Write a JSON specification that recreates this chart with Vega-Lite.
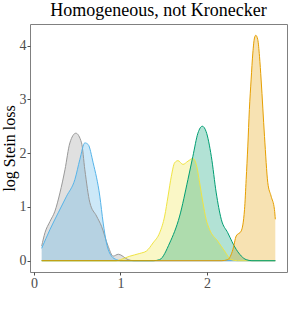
{
  "$schema": "https://vega.github.io/schema/vega-lite/v6.json",
  "width": 257,
  "height": 248,
  "autosize": "none",
  "padding": {"left": 30, "top": 24, "right": 4, "bottom": 37},
  "background": "white",
  "title": {"text": "Homogeneous, not Kronecker", "font": "Liberation Serif", "fontSize": 18, "fontWeight": "normal", "color": "black", "offset": 4, "anchor": "middle"},
  "config": {
    "view": {"stroke": "#808080", "strokeWidth": 1},
    "axis": {"grid": false, "domain": false, "tickColor": "#4d4d4d", "tickSize": 3, "labelFont": "Liberation Serif", "labelFontSize": 14, "labelColor": "#4d4d4d", "titleFont": "Liberation Serif", "titleFontSize": 16, "titleFontWeight": "normal", "titleColor": "black", "labelPadding": 1}
  },
  "data": {"values": [
    {"s": "a", "x": 0.089, "y": 0.27}, {"s": "a", "x": 0.127, "y": 0.52}, {"s": "a", "x": 0.185, "y": 0.73}, {"s": "a", "x": 0.242, "y": 0.92}, {"s": "a", "x": 0.30, "y": 1.26}, {"s": "a", "x": 0.358, "y": 1.69}, {"s": "a", "x": 0.415, "y": 2.19}, {"s": "a", "x": 0.484, "y": 2.37}, {"s": "a", "x": 0.55, "y": 2.19}, {"s": "a", "x": 0.588, "y": 1.69}, {"s": "a", "x": 0.646, "y": 1.08}, {"s": "a", "x": 0.723, "y": 0.83}, {"s": "a", "x": 0.781, "y": 0.64}, {"s": "a", "x": 0.857, "y": 0.27}, {"s": "a", "x": 0.915, "y": 0.085}, {"s": "a", "x": 0.975, "y": 0.12}, {"s": "a", "x": 1.088, "y": 0.02}, {"s": "a", "x": 1.15, "y": 0}, {"s": "a", "x": 2.79, "y": 0},
    {"s": "b", "x": 0.089, "y": 0.23}, {"s": "b", "x": 0.185, "y": 0.58}, {"s": "b", "x": 0.28, "y": 0.89}, {"s": "b", "x": 0.377, "y": 1.2}, {"s": "b", "x": 0.473, "y": 1.51}, {"s": "b", "x": 0.53, "y": 1.88}, {"s": "b", "x": 0.588, "y": 2.19}, {"s": "b", "x": 0.626, "y": 2.16}, {"s": "b", "x": 0.684, "y": 1.82}, {"s": "b", "x": 0.761, "y": 1.2}, {"s": "b", "x": 0.80, "y": 0.7}, {"s": "b", "x": 0.838, "y": 0.33}, {"s": "b", "x": 0.896, "y": 0.085}, {"s": "b", "x": 0.954, "y": 0.02}, {"s": "b", "x": 1.0, "y": 0}, {"s": "b", "x": 2.79, "y": 0},
    {"s": "c", "x": 0.089, "y": 0}, {"s": "c", "x": 0.95, "y": 0}, {"s": "c", "x": 1.0, "y": 0.02}, {"s": "c", "x": 1.1, "y": 0.08}, {"s": "c", "x": 1.223, "y": 0.135}, {"s": "c", "x": 1.30, "y": 0.18}, {"s": "c", "x": 1.376, "y": 0.33}, {"s": "c", "x": 1.453, "y": 0.52}, {"s": "c", "x": 1.511, "y": 0.83}, {"s": "c", "x": 1.55, "y": 1.2}, {"s": "c", "x": 1.588, "y": 1.57}, {"s": "c", "x": 1.626, "y": 1.82}, {"s": "c", "x": 1.665, "y": 1.86}, {"s": "c", "x": 1.722, "y": 1.79}, {"s": "c", "x": 1.78, "y": 1.85}, {"s": "c", "x": 1.837, "y": 1.9}, {"s": "c", "x": 1.876, "y": 1.79}, {"s": "c", "x": 1.915, "y": 1.45}, {"s": "c", "x": 1.953, "y": 1.08}, {"s": "c", "x": 1.99, "y": 0.77}, {"s": "c", "x": 2.03, "y": 0.58}, {"s": "c", "x": 2.126, "y": 0.36}, {"s": "c", "x": 2.203, "y": 0.18}, {"s": "c", "x": 2.28, "y": 0.02}, {"s": "c", "x": 2.35, "y": 0}, {"s": "c", "x": 2.79, "y": 0},
    {"s": "d", "x": 0.089, "y": 0}, {"s": "d", "x": 1.38, "y": 0}, {"s": "d", "x": 1.453, "y": 0.02}, {"s": "d", "x": 1.569, "y": 0.33}, {"s": "d", "x": 1.684, "y": 0.83}, {"s": "d", "x": 1.78, "y": 1.51}, {"s": "d", "x": 1.837, "y": 1.94}, {"s": "d", "x": 1.895, "y": 2.37}, {"s": "d", "x": 1.946, "y": 2.5}, {"s": "d", "x": 1.99, "y": 2.4}, {"s": "d", "x": 2.05, "y": 1.94}, {"s": "d", "x": 2.107, "y": 1.26}, {"s": "d", "x": 2.165, "y": 0.77}, {"s": "d", "x": 2.24, "y": 0.52}, {"s": "d", "x": 2.338, "y": 0.21}, {"s": "d", "x": 2.453, "y": 0.02}, {"s": "d", "x": 2.52, "y": 0}, {"s": "d", "x": 2.79, "y": 0},
    {"s": "e", "x": 0.089, "y": 0}, {"s": "e", "x": 2.17, "y": 0}, {"s": "e", "x": 2.24, "y": 0.02}, {"s": "e", "x": 2.30, "y": 0.21}, {"s": "e", "x": 2.338, "y": 0.46}, {"s": "e", "x": 2.395, "y": 0.55}, {"s": "e", "x": 2.434, "y": 0.95}, {"s": "e", "x": 2.453, "y": 1.51}, {"s": "e", "x": 2.472, "y": 2.13}, {"s": "e", "x": 2.49, "y": 2.81}, {"s": "e", "x": 2.51, "y": 3.36}, {"s": "e", "x": 2.53, "y": 3.86}, {"s": "e", "x": 2.549, "y": 4.14}, {"s": "e", "x": 2.564, "y": 4.19}, {"s": "e", "x": 2.587, "y": 4.11}, {"s": "e", "x": 2.607, "y": 3.8}, {"s": "e", "x": 2.626, "y": 3.36}, {"s": "e", "x": 2.665, "y": 2.31}, {"s": "e", "x": 2.703, "y": 1.45}, {"s": "e", "x": 2.741, "y": 1.2}, {"s": "e", "x": 2.78, "y": 0.95}, {"s": "e", "x": 2.79, "y": 0.77}
  ]},
  "encoding": {
    "x": {"field": "x", "type": "quantitative", "scale": {"domain": [-0.046, 2.925], "nice": false, "zero": false}, "axis": {"values": [0, 1, 2], "title": null}},
    "y": {"field": "y", "type": "quantitative", "stack": null, "scale": {"domain": [-0.21, 4.4], "nice": false, "zero": false}, "axis": {"values": [0, 1, 2, 3, 4], "title": "log Stein loss", "titlePadding": 2}},
    "color": {"field": "s", "type": "nominal", "legend": null, "scale": {"domain": ["a", "b", "c", "d", "e"], "range": ["#999999", "#56B4E9", "#F0E442", "#009E73", "#E69F00"]}}
  },
  "layer": [
    {"mark": {"type": "area", "interpolate": "monotone", "opacity": 0.3}},
    {"mark": {"type": "line", "interpolate": "monotone", "strokeWidth": 1}}
  ]
}
